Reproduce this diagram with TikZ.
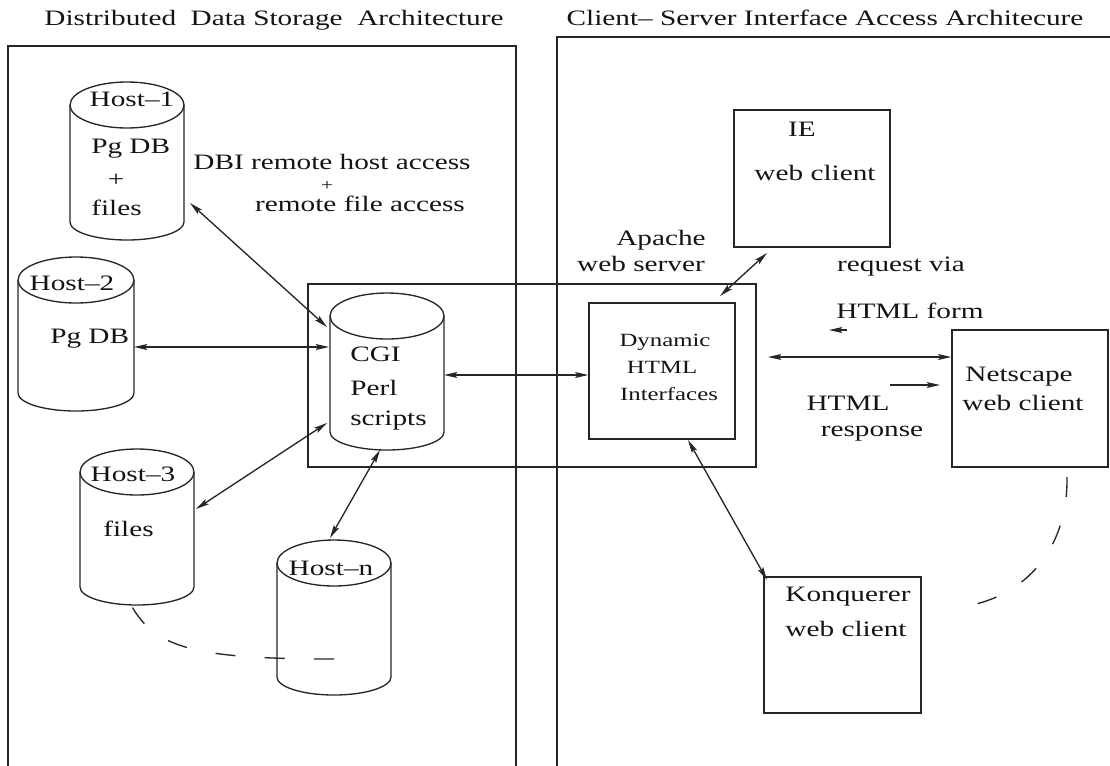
\documentclass[tikz,border=0pt]{standalone}
\usepackage{fontspec}
\setmainfont[FakeStretch=1.33]{Liberation Serif}
\usetikzlibrary{arrows.meta,fit}
\newcommand\dbcyl[5]{% name, cx, ty, sb, rx
  \coordinate (#1) at (#2,#3);
  \draw[ln] (#2,#3) ellipse [x radius=#5, y radius=23];
  \draw[ln] (#2-#5,#3) -- (#2-#5,#4) arc[start angle=180,end angle=0,x radius=#5,y radius=18] -- (#2+#5,#3);
}
\begin{document}
\begin{tikzpicture}[x=0.75pt,y=-0.75pt,
  ln/.style={line width=1pt, draw=black!85},
  box/.style={ln, draw, inner sep=0pt},
  arr/.style={ln, {Stealth[length=10pt,width=4.5pt,inset=2pt]}-{Stealth[length=10pt,width=4.5pt,inset=2pt]}},
  onearr/.style={ln, -{Stealth[length=10pt,width=4.5pt,inset=2pt]}},
  txt/.style={inner sep=0pt, font=\fontsize{16.5}{19}\selectfont, text=black!92, text height=0.68em, text depth=0.2em},
  sml/.style={inner sep=0pt, font=\fontsize{14}{16}\selectfont, text=black!92, text height=0.68em, text depth=0.2em},
  plus/.style={inner sep=0pt, font=\fontsize{12}{13}\selectfont, text=black!92, text height=0.5em, text depth=0pt},
  dsh/.style={ln, dash pattern=on 15pt off 22pt}]
\useasboundingbox (0,0) rectangle (1110,765);

% panel titles and frames
\node[txt] (t1) at (274,22) {Distributed\ \ Data Storage\ \ Architecture};
\node[txt] (t2) at (825,22) {Client– Server Interface Access Architecure};
\draw[ln] (8,790) -- (8,46) -- (516,46) -- (516,790);
\draw[ln] (557,790) -- (557,37) -- (1125,37);

% cylinders
\dbcyl{h1}{127}{105}{222}{57}
\dbcyl{h2}{76}{280}{393}{58}
\dbcyl{cgi}{387}{316}{432}{57}
\dbcyl{h3}{137}{472}{587}{57}
\dbcyl{hn}{334}{563}{677}{57}

% boxes
\node[box, fit={(308,284) (756,467)}] (apache) {};
\node[box, fit={(589,303) (735,439)}] (dyn) {};
\node[box, fit={(734,110) (890,247)}] (ie) {};
\node[box, fit={(952,330) (1108,467)}] (ns) {};
\node[box, fit={(764,577) (921,713)}] (kq) {};

% cylinder texts
\node[txt] (h1a) at (132,103) {Host–1};
\node[txt, anchor=west] (h1b) at (91,150) {Pg DB};
\node[txt, text height=0.5em, text depth=0pt] (h1c) at (116,183) {+};
\node[txt, anchor=west] (h1d) at (91,212) {files};
\node[txt] (h2a) at (72,287) {Host–2};
\node[txt, anchor=west] (h2b) at (50,340) {Pg DB};
\node[txt, anchor=west] (cga) at (350,358) {CGI};
\node[txt, anchor=west] (cgb) at (350,392) {Perl};
\node[txt, anchor=west] (cgc) at (350,422) {scripts};
\node[txt] (h3a) at (133,478) {Host–3};
\node[txt, anchor=west] (h3b) at (103,533) {files};
\node[txt] (hna) at (331,572) {Host–n};

% labels
\node[txt] (dbi1) at (332,166) {DBI remote host access};
\node[plus] (dbi2) at (327,187) {+};
\node[txt] (dbi3) at (360,208) {remote file access};
\node[txt] (ap1) at (661,242) {Apache};
\node[txt] (ap2) at (641,268) {web server};
\node[txt] (ie1) at (802,133) {IE};
\node[txt] (ie2) at (815,177) {web client};
\node[txt] (rq1) at (901,268) {request via};
\node[txt] (rq2) at (910,315) {HTML form};
\node[sml] (dy1) at (665,343) {Dynamic};
\node[sml] (dy2) at (662,370) {HTML};
\node[sml] (dy3) at (669,397) {Interfaces};
\node[txt] (rs1) at (848,407) {HTML};
\node[txt] (rs2) at (872,433) {response};
\node[txt] (ns1) at (1019,378) {Netscape};
\node[txt] (ns2) at (1023,407) {web client};
\node[txt] (kq1) at (848,598) {Konquerer};
\node[txt] (kq2) at (846,633) {web client};

% connector end points
\coordinate (p1a) at (190,203); \coordinate (p1b) at (327,327);
\coordinate (p2a) at (134,347); \coordinate (p2b) at (329,347);
\coordinate (p3a) at (196,509); \coordinate (p3b) at (327,423);
\coordinate (pna) at (380,450); \coordinate (pnb) at (330,538);
\coordinate (pca) at (444,375);
\coordinate (pia) at (720,296); \coordinate (pib) at (767,253);
\coordinate (pka) at (688,440); \coordinate (pkb) at (767,580);
\coordinate (pns) at (768,357);
\coordinate (q1) at (847,330); \coordinate (q2) at (829,330);
\coordinate (r1) at (890,385); \coordinate (r2) at (940,385);
\coordinate (d1) at (131,605);
\coordinate (d2) at (1067,477); \coordinate (d3) at (972,605);

% connectors
\draw[arr] (p1a) -- (p1b);
\draw[arr] (p2a) -- (p2b);
\draw[arr] (p3a) -- (p3b);
\draw[arr] (pna) -- (pnb);
\draw[arr] (pca) -- (pca -| dyn.west);
\draw[arr] (pia) -- (pib);
\draw[arr] (pns) -- (pns -| ns.west);
\draw[arr] (pka) -- (pkb);
\draw[onearr] (q1) -- (q2);
\draw[onearr] (r1) -- (r2);

% dashed links
\draw[dsh] (hn.west |- 0,659) .. controls (195,659) and (155,648) .. (d1);
\draw[dsh] (d2) .. controls (1068,545) and (1030,592) .. (d3);
\end{tikzpicture}
\end{document}
